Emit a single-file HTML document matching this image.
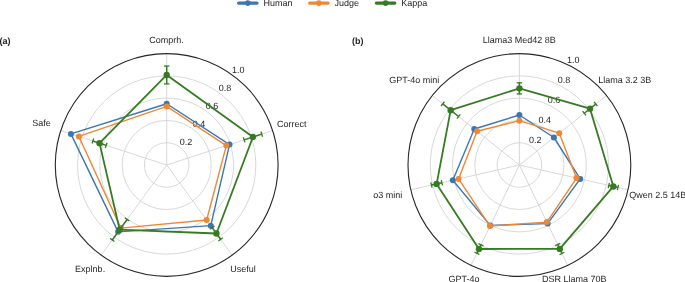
<!DOCTYPE html>
<html><head><meta charset="utf-8"><style>
html,body{margin:0;padding:0;background:#fff;}
body{width:685px;height:282px;overflow:hidden;}
svg{display:block;will-change:transform;}
text{font-family:"Liberation Sans",sans-serif;font-size:9px;fill:#262626;text-rendering:geometricPrecision;}
</style></head><body>
<svg width="685" height="282" viewBox="0 0 685 282">
<circle cx="166.70" cy="165.00" r="22.28" fill="none" stroke="#d4d4d4" stroke-width="0.9"/>
<circle cx="166.70" cy="165.00" r="44.56" fill="none" stroke="#d4d4d4" stroke-width="0.9"/>
<circle cx="166.70" cy="165.00" r="66.84" fill="none" stroke="#d4d4d4" stroke-width="0.9"/>
<circle cx="166.70" cy="165.00" r="89.12" fill="none" stroke="#d4d4d4" stroke-width="0.9"/>
<line x1="166.70" y1="165.00" x2="166.70" y2="53.60" stroke="#d4d4d4" stroke-width="0.9"/>
<line x1="166.70" y1="165.00" x2="272.65" y2="130.58" stroke="#d4d4d4" stroke-width="0.9"/>
<line x1="166.70" y1="165.00" x2="232.18" y2="255.12" stroke="#d4d4d4" stroke-width="0.9"/>
<line x1="166.70" y1="165.00" x2="101.22" y2="255.12" stroke="#d4d4d4" stroke-width="0.9"/>
<line x1="166.70" y1="165.00" x2="60.75" y2="130.58" stroke="#d4d4d4" stroke-width="0.9"/>
<text x="238.17" y="73" text-anchor="middle">1.0</text>
<text x="225.10" y="91" text-anchor="middle">0.8</text>
<text x="211.90" y="109" text-anchor="middle">0.6</text>
<text x="199.08" y="127" text-anchor="middle">0.4</text>
<text x="185.96" y="145" text-anchor="middle">0.2</text>
<circle cx="166.70" cy="165.00" r="111.40" fill="none" stroke="#262626" stroke-width="1.1"/>
<polygon points="166.70,103.73 229.53,144.59 210.77,225.65 118.11,231.87 70.92,133.88" fill="none" stroke="#3b76b4" stroke-width="1.4" stroke-linejoin="round"/>
<circle cx="166.70" cy="103.73" r="3.0" fill="#3b76b4"/>
<circle cx="229.53" cy="144.59" r="3.0" fill="#3b76b4"/>
<circle cx="210.77" cy="225.65" r="3.0" fill="#3b76b4"/>
<circle cx="118.11" cy="231.87" r="3.0" fill="#3b76b4"/>
<circle cx="70.92" cy="133.88" r="3.0" fill="#3b76b4"/>
<polygon points="166.70,106.40 226.35,145.62 206.64,219.98 120.86,228.09 78.87,136.46" fill="none" stroke="#ee8834" stroke-width="1.4" stroke-linejoin="round"/>
<circle cx="166.70" cy="106.40" r="3.0" fill="#ee8834"/>
<circle cx="226.35" cy="145.62" r="3.0" fill="#ee8834"/>
<circle cx="206.64" cy="219.98" r="3.0" fill="#ee8834"/>
<circle cx="120.86" cy="228.09" r="3.0" fill="#ee8834"/>
<circle cx="78.87" cy="136.46" r="3.0" fill="#ee8834"/>
<line x1="166.70" y1="83.90" x2="166.70" y2="66.08" stroke="#367b24" stroke-width="1.5"/>
<line x1="169.40" y1="83.90" x2="164.00" y2="83.90" stroke="#367b24" stroke-width="1.3"/>
<line x1="169.40" y1="66.08" x2="164.00" y2="66.08" stroke="#367b24" stroke-width="1.3"/>
<line x1="244.15" y1="139.84" x2="261.74" y2="134.12" stroke="#367b24" stroke-width="1.5"/>
<line x1="244.98" y1="142.40" x2="243.31" y2="137.27" stroke="#367b24" stroke-width="1.3"/>
<line x1="262.57" y1="136.69" x2="260.90" y2="131.55" stroke="#367b24" stroke-width="1.3"/>
<line x1="212.27" y1="227.73" x2="220.65" y2="239.26" stroke="#367b24" stroke-width="1.5"/>
<line x1="210.09" y1="229.31" x2="214.46" y2="226.14" stroke="#367b24" stroke-width="1.3"/>
<line x1="218.47" y1="240.85" x2="222.84" y2="237.68" stroke="#367b24" stroke-width="1.3"/>
<line x1="127.15" y1="219.44" x2="112.22" y2="239.98" stroke="#367b24" stroke-width="1.5"/>
<line x1="124.97" y1="217.85" x2="129.33" y2="221.02" stroke="#367b24" stroke-width="1.3"/>
<line x1="110.04" y1="238.40" x2="114.41" y2="241.57" stroke="#367b24" stroke-width="1.3"/>
<line x1="106.20" y1="145.34" x2="92.85" y2="141.01" stroke="#367b24" stroke-width="1.5"/>
<line x1="107.04" y1="142.78" x2="105.37" y2="147.91" stroke="#367b24" stroke-width="1.3"/>
<line x1="93.69" y1="138.44" x2="92.02" y2="143.57" stroke="#367b24" stroke-width="1.3"/>
<polygon points="166.70,74.99 252.94,136.98 216.46,233.49 119.69,229.71 99.53,143.17" fill="none" stroke="#367b24" stroke-width="1.8" stroke-linejoin="round"/>
<circle cx="166.70" cy="74.99" r="3.2" fill="#367b24"/>
<circle cx="252.94" cy="136.98" r="3.2" fill="#367b24"/>
<circle cx="216.46" cy="233.49" r="3.2" fill="#367b24"/>
<circle cx="119.69" cy="229.71" r="3.2" fill="#367b24"/>
<circle cx="99.53" cy="143.17" r="3.2" fill="#367b24"/>
<circle cx="519.40" cy="165.00" r="22.28" fill="none" stroke="#d4d4d4" stroke-width="0.9"/>
<circle cx="519.40" cy="165.00" r="44.56" fill="none" stroke="#d4d4d4" stroke-width="0.9"/>
<circle cx="519.40" cy="165.00" r="66.84" fill="none" stroke="#d4d4d4" stroke-width="0.9"/>
<circle cx="519.40" cy="165.00" r="89.12" fill="none" stroke="#d4d4d4" stroke-width="0.9"/>
<line x1="519.40" y1="165.00" x2="519.40" y2="53.60" stroke="#d4d4d4" stroke-width="0.9"/>
<line x1="519.40" y1="165.00" x2="606.50" y2="95.54" stroke="#d4d4d4" stroke-width="0.9"/>
<line x1="519.40" y1="165.00" x2="628.01" y2="189.79" stroke="#d4d4d4" stroke-width="0.9"/>
<line x1="519.40" y1="165.00" x2="567.73" y2="265.37" stroke="#d4d4d4" stroke-width="0.9"/>
<line x1="519.40" y1="165.00" x2="471.07" y2="265.37" stroke="#d4d4d4" stroke-width="0.9"/>
<line x1="519.40" y1="165.00" x2="410.79" y2="189.79" stroke="#d4d4d4" stroke-width="0.9"/>
<line x1="519.40" y1="165.00" x2="432.30" y2="95.54" stroke="#d4d4d4" stroke-width="0.9"/>
<text x="573.32" y="63" text-anchor="middle">1.0</text>
<text x="563.90" y="83" text-anchor="middle">0.8</text>
<text x="554.10" y="103" text-anchor="middle">0.6</text>
<text x="544.73" y="123" text-anchor="middle">0.4</text>
<text x="535.16" y="143" text-anchor="middle">0.2</text>
<circle cx="519.40" cy="165.00" r="111.40" fill="none" stroke="#262626" stroke-width="1.1"/>
<polygon points="519.40,114.98 553.89,137.50 580.22,178.88 547.63,223.61 490.30,225.42 452.82,180.20 474.28,129.02" fill="none" stroke="#3b76b4" stroke-width="1.4" stroke-linejoin="round"/>
<circle cx="519.40" cy="114.98" r="3.0" fill="#3b76b4"/>
<circle cx="553.89" cy="137.50" r="3.0" fill="#3b76b4"/>
<circle cx="580.22" cy="178.88" r="3.0" fill="#3b76b4"/>
<circle cx="547.63" cy="223.61" r="3.0" fill="#3b76b4"/>
<circle cx="490.30" cy="225.42" r="3.0" fill="#3b76b4"/>
<circle cx="452.82" cy="180.20" r="3.0" fill="#3b76b4"/>
<circle cx="474.28" cy="129.02" r="3.0" fill="#3b76b4"/>
<polygon points="519.40,120.66 559.29,133.19 576.53,178.04 546.90,222.11 490.01,226.02 458.58,178.88 477.07,131.24" fill="none" stroke="#ee8834" stroke-width="1.4" stroke-linejoin="round"/>
<circle cx="519.40" cy="120.66" r="3.0" fill="#ee8834"/>
<circle cx="559.29" cy="133.19" r="3.0" fill="#ee8834"/>
<circle cx="576.53" cy="178.04" r="3.0" fill="#ee8834"/>
<circle cx="546.90" cy="222.11" r="3.0" fill="#ee8834"/>
<circle cx="490.01" cy="226.02" r="3.0" fill="#ee8834"/>
<circle cx="458.58" cy="178.88" r="3.0" fill="#ee8834"/>
<circle cx="477.07" cy="131.24" r="3.0" fill="#ee8834"/>
<line x1="519.40" y1="93.93" x2="519.40" y2="82.79" stroke="#367b24" stroke-width="1.5"/>
<line x1="522.10" y1="93.93" x2="516.70" y2="93.93" stroke="#367b24" stroke-width="1.3"/>
<line x1="522.10" y1="82.79" x2="516.70" y2="82.79" stroke="#367b24" stroke-width="1.3"/>
<line x1="584.29" y1="113.25" x2="595.78" y2="104.09" stroke="#367b24" stroke-width="1.5"/>
<line x1="585.97" y1="115.37" x2="582.60" y2="111.14" stroke="#367b24" stroke-width="1.3"/>
<line x1="597.47" y1="106.20" x2="594.10" y2="101.98" stroke="#367b24" stroke-width="1.3"/>
<line x1="608.78" y1="185.40" x2="617.91" y2="187.48" stroke="#367b24" stroke-width="1.5"/>
<line x1="608.18" y1="188.03" x2="609.38" y2="182.77" stroke="#367b24" stroke-width="1.3"/>
<line x1="617.31" y1="190.12" x2="618.51" y2="184.85" stroke="#367b24" stroke-width="1.3"/>
<line x1="557.63" y1="244.39" x2="561.98" y2="253.42" stroke="#367b24" stroke-width="1.5"/>
<line x1="555.20" y1="245.56" x2="560.07" y2="243.22" stroke="#367b24" stroke-width="1.3"/>
<line x1="559.55" y1="254.60" x2="564.42" y2="252.25" stroke="#367b24" stroke-width="1.3"/>
<line x1="480.97" y1="244.79" x2="476.91" y2="253.22" stroke="#367b24" stroke-width="1.5"/>
<line x1="478.54" y1="243.62" x2="483.41" y2="245.96" stroke="#367b24" stroke-width="1.3"/>
<line x1="474.48" y1="252.05" x2="479.35" y2="254.39" stroke="#367b24" stroke-width="1.3"/>
<line x1="441.85" y1="182.70" x2="431.43" y2="185.08" stroke="#367b24" stroke-width="1.5"/>
<line x1="441.25" y1="180.07" x2="442.46" y2="185.33" stroke="#367b24" stroke-width="1.3"/>
<line x1="430.83" y1="182.45" x2="432.03" y2="187.71" stroke="#367b24" stroke-width="1.3"/>
<line x1="458.61" y1="116.52" x2="442.76" y2="103.88" stroke="#367b24" stroke-width="1.5"/>
<line x1="460.29" y1="114.41" x2="456.92" y2="118.63" stroke="#367b24" stroke-width="1.3"/>
<line x1="444.44" y1="101.77" x2="441.07" y2="105.99" stroke="#367b24" stroke-width="1.3"/>
<polygon points="519.40,88.36 590.03,108.67 613.35,186.44 559.81,248.91 478.94,249.01 436.64,183.89 450.68,110.20" fill="none" stroke="#367b24" stroke-width="1.8" stroke-linejoin="round"/>
<circle cx="519.40" cy="88.36" r="3.2" fill="#367b24"/>
<circle cx="590.03" cy="108.67" r="3.2" fill="#367b24"/>
<circle cx="613.35" cy="186.44" r="3.2" fill="#367b24"/>
<circle cx="559.81" cy="248.91" r="3.2" fill="#367b24"/>
<circle cx="478.94" cy="249.01" r="3.2" fill="#367b24"/>
<circle cx="436.64" cy="183.89" r="3.2" fill="#367b24"/>
<circle cx="450.68" cy="110.20" r="3.2" fill="#367b24"/>
<text x="166.62" y="43" text-anchor="middle">Comprh.</text>
<text x="291.87" y="127" text-anchor="middle">Correct</text>
<text x="41.40" y="126" text-anchor="middle">Safe</text>
<text x="242.96" y="272" text-anchor="middle">Useful</text>
<text x="90.13" y="272" text-anchor="middle">Explnb.</text>
<text x="519.36" y="43" text-anchor="middle">Llama3 Med42 8B</text>
<text x="624.72" y="83" text-anchor="middle">Llama 3.2 3B</text>
<text x="387.87" y="198" text-anchor="middle">o3 mini</text>
<text x="574.33" y="282" text-anchor="middle">DSR Llama 70B</text>
<text x="464.09" y="282" text-anchor="middle">GPT-4o</text>
<text x="657.77" y="198" text-anchor="middle">Qwen 2.5 14B</text>
<text x="414.23" y="83" text-anchor="middle">GPT-4o mini</text>
<text x="5.09" y="44" text-anchor="middle" font-weight="bold">(a)</text>
<text x="357.76" y="44" text-anchor="middle" font-weight="bold">(b)</text>
<line x1="238.60" y1="3.1" x2="257.00" y2="3.1" stroke="#3b76b4" stroke-width="3.3" stroke-linecap="round"/>
<circle cx="247.80" cy="3.1" r="2.8" fill="#3b76b4"/>
<text x="277.93" y="6" text-anchor="middle">Human</text>
<line x1="309.70" y1="3.1" x2="328.10" y2="3.1" stroke="#ee8834" stroke-width="3.3" stroke-linecap="round"/>
<circle cx="318.90" cy="3.1" r="2.8" fill="#ee8834"/>
<text x="346.74" y="6" text-anchor="middle">Judge</text>
<line x1="376.40" y1="3.1" x2="394.80" y2="3.1" stroke="#367b24" stroke-width="3.3" stroke-linecap="round"/>
<circle cx="385.60" cy="3.1" r="2.8" fill="#367b24"/>
<text x="414.20" y="6" text-anchor="middle">Kappa</text>
</svg>
</body></html>
